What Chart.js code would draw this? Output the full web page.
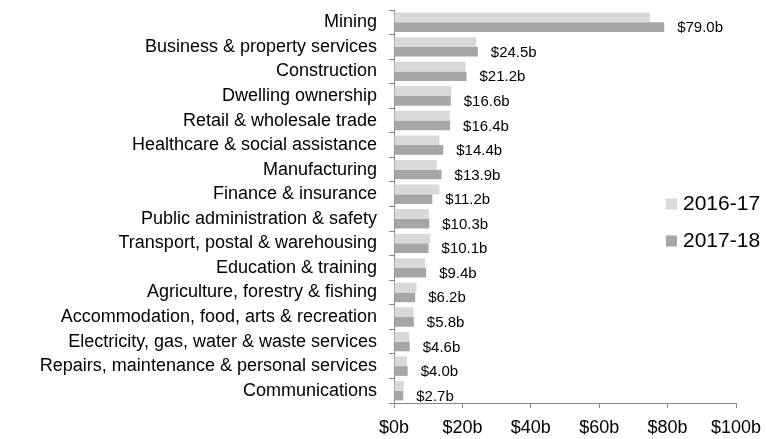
<!DOCTYPE html>
<html>
<head>
<meta charset="utf-8">
<script src="https://cdn.jsdelivr.net/npm/chart.js@4"></script>
<style>
    html, body { margin: 0; padding: 0; background: #ffffff; }
    #wrap { width: 766px; height: 439px; }
</style>
</head>
<body>
<div id="wrap"><canvas id="chart" width="766" height="439"></canvas></div>
<script>
const industries = [
    "Mining",
    "Business & property services",
    "Construction",
    "Dwelling ownership",
    "Retail & wholesale trade",
    "Healthcare & social assistance",
    "Manufacturing",
    "Finance & insurance",
    "Public administration & safety",
    "Transport, postal & warehousing",
    "Education & training",
    "Agriculture, forestry & fishing",
    "Accommodation, food, arts & recreation",
    "Electricity, gas, water & waste services",
    "Repairs, maintenance & personal services",
    "Communications",
];
const values2016 = [74.8, 24.0, 20.9, 16.8, 16.3, 13.3, 12.5, 13.3, 10.2, 10.6, 9.1, 6.6, 5.7, 4.5, 3.7, 2.9];
const values2017 = [79.0, 24.5, 21.2, 16.6, 16.4, 14.4, 13.9, 11.2, 10.3, 10.1, 9.4, 6.2, 5.8, 4.6, 4.0, 2.7];
const seriesLabels = ["2016-17", "2017-18"];
const xTicks = [0, 20, 40, 60, 80, 100];

const COLORS = {
    light: "#d9d9d9",
    dark: "#a6a6a6",
    text: "#000000",
    axis: "#868686",
};
const FONT = "'Liberation Sans', Arial, sans-serif";

// value labels next to the 2017-18 bars
const valueLabels = {
    id: "valueLabels",
    afterDatasetsDraw(chart) {
        const ctx = chart.ctx;
        const meta = chart.getDatasetMeta(1);
        ctx.save();
        ctx.font = "15px " + FONT;
        ctx.fillStyle = COLORS.text;
        ctx.textAlign = "left";
        ctx.textBaseline = "middle";
        meta.data.forEach((bar, i) => {
            const v = chart.data.datasets[1].data[i];
            ctx.fillText("$" + v.toFixed(1) + "b", bar.x + 13, bar.y + 1);
        });
        ctx.restore();
    },
};

// legend drawn by hand so it can sit inside the plot area
const sideLegend = {
    id: "sideLegend",
    afterDraw(chart) {
        const ctx = chart.ctx;
        ctx.save();
        ctx.font = "21px " + FONT;
        ctx.textAlign = "left";
        ctx.textBaseline = "middle";
        chart.data.datasets.forEach((ds, i) => {
            const y = 204 + i * 37;
            ctx.fillStyle = ds.backgroundColor;
            ctx.fillRect(666, y - 5.5, 11, 11);
            ctx.fillStyle = COLORS.text;
            ctx.fillText(ds.label, 683, y);
        });
        ctx.restore();
    },
};

const data = {
    labels: industries,
    datasets: [
        {
            label: seriesLabels[0],
            data: values2016,
            backgroundColor: COLORS.light,
            categoryPercentage: 0.79,
            barPercentage: 1.0,
        },
        {
            label: seriesLabels[1],
            data: values2017,
            backgroundColor: COLORS.dark,
            categoryPercentage: 0.79,
            barPercentage: 1.0,
        },
    ],
};

const option = {
    indexAxis: "y",
    responsive: false,
    animation: false,
    layout: {
        padding: { top: 10, right: 30, left: 0, bottom: 0 },
    },
    plugins: {
        legend: { display: false },
        tooltip: { enabled: false },
    },
    scales: {
        x: {
            min: 0,
            max: 100,
            afterBuildTicks: (scale) => {
                scale.ticks = xTicks.map((v) => ({ value: v }));
            },
            afterFit: (scale) => {
                scale.height = 36;
                scale.paddingLeft = 0;
                scale.paddingRight = 0;
            },
            border: { display: true, color: COLORS.axis, width: 1 },
            grid: {
                display: true,
                drawOnChartArea: false,
                drawTicks: true,
                tickLength: 5,
                color: COLORS.axis,
            },
            ticks: {
                color: COLORS.text,
                font: { family: FONT, size: 18 },
                padding: 9,
                maxRotation: 0,
                callback: (v) => "$" + v + "b",
            },
        },
        y: {
            afterFit: (scale) => {
                scale.width = 394;
                scale.paddingTop = 0;
                scale.paddingBottom = 0;
            },
            border: { display: true, color: COLORS.axis, width: 1 },
            grid: {
                display: true,
                offset: true,
                drawOnChartArea: false,
                drawTicks: true,
                tickLength: 5,
                color: COLORS.axis,
            },
            ticks: {
                color: COLORS.text,
                font: { family: FONT, size: 18 },
                padding: 12,
                autoSkip: false,
            },
        },
    },
};

const canvas = document.getElementById("chart");
const myChart = new Chart(canvas, {
    type: "bar",
    data: data,
    options: option,
    plugins: [valueLabels, sideLegend],
});
</script>
</body>
</html>
